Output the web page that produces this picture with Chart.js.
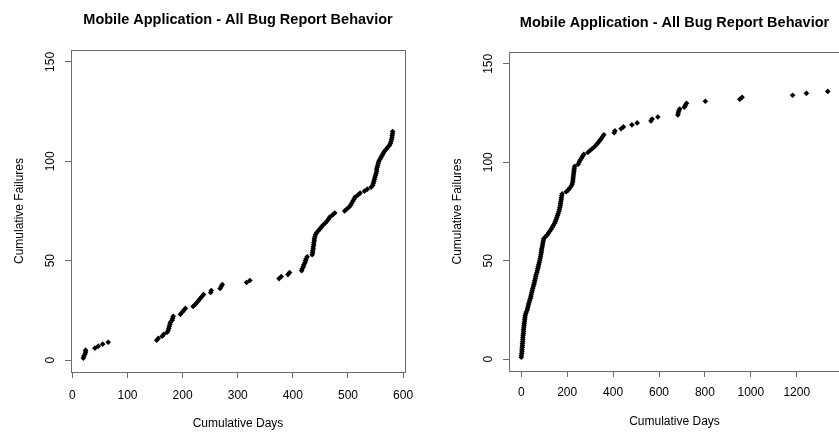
<!DOCTYPE html>
<html>
<head>
<meta charset="utf-8">
<script src="https://cdn.jsdelivr.net/npm/chart.js@4.4.0/dist/chart.umd.min.js"></script>
<style>
  html, body { margin: 0; padding: 0; background: #fff; overflow: hidden; width: 839px; height: 432px; }
  #leftChart { position: absolute; left: 0; top: 0; }
  #rightChart { position: absolute; left: 420px; top: 0; }
</style>
</head>
<body>
<canvas id="leftChart" width="420" height="432"></canvas>
<canvas id="rightChart" width="460" height="432"></canvas>
<script>
// ---------- data ----------
const chartTitle = 'Mobile Application - All Bug Report Behavior';
const xLabel = 'Cumulative Days';
const yLabel = 'Cumulative Failures';

const leftDays = [20, 21, 23, 24, 24, 41, 47, 55, 65, 153,
  156, 163, 166, 172, 174, 175, 176, 177, 178, 181,
  182, 183, 196, 199, 202, 205, 219, 223, 226, 229,
  232, 235, 238, 251, 252, 268, 270, 272, 316, 322,
  375, 379, 391, 394, 416, 417, 419, 420, 422, 423,
  424, 426, 435, 436, 436, 437, 437, 438, 438, 439,
  439, 440, 441, 443, 446, 449, 452, 455, 459, 462,
  465, 467, 472, 476, 494, 498, 502, 505, 507, 509,
  511, 513, 518, 522, 530, 535, 542, 545, 546, 547,
  548, 549, 550, 551, 552, 552, 553, 554, 555, 556,
  558, 560, 562, 564, 566, 569, 572, 575, 577, 578,
  579, 580, 580, 581, 581];
const leftFailures = [1, 2, 3, 4, 5, 6, 7, 8, 9, 10,
  11, 12, 13, 14, 15, 16, 17, 18, 19, 20,
  21, 22, 23, 24, 25, 26, 27, 28, 29, 30,
  31, 32, 33, 34, 35, 36, 37, 38, 39, 40,
  41, 42, 43, 44, 45, 46, 47, 48, 49, 50,
  51, 52, 53, 54, 55, 56, 57, 58, 59, 60,
  61, 62, 63, 64, 65, 66, 67, 68, 69, 70,
  71, 72, 73, 74, 75, 76, 77, 78, 79, 80,
  81, 82, 83, 84, 85, 86, 87, 88, 89, 90,
  91, 92, 93, 94, 95, 96, 97, 98, 99, 100,
  101, 102, 103, 104, 105, 106, 107, 108, 109, 110,
  111, 112, 113, 114, 115];

const rightDays = [0, 1, 2, 3, 3, 4, 5, 5, 6, 7,
  7, 8, 9, 10, 10, 11, 12, 13, 14, 15,
  16, 17, 19, 22, 26, 28, 30, 32, 35, 37,
  40, 42, 44, 46, 48, 50, 53, 55, 57, 59,
  61, 63, 65, 68, 70, 72, 74, 76, 78, 80,
  82, 84, 85, 87, 88, 89, 91, 93, 94, 96,
  97, 104, 112, 118, 124, 130, 135, 140, 145, 149,
  152, 155, 158, 161, 164, 166, 168, 170, 171, 172,
  174, 175, 176, 178, 196, 205, 212, 218, 222, 224,
  225, 226, 227, 228, 229, 230, 231, 233, 248, 252,
  256, 262, 267, 272, 290, 300, 310, 320, 328, 335,
  342, 348, 354, 360, 405, 408, 435, 445, 482, 505,
  565, 570, 595, 682, 684, 686, 690, 710, 715, 720,
  802, 952, 962, 1182, 1242, 1335];
const rightFailures = [1, 2, 3, 4, 5, 6, 7, 8, 9, 10,
  11, 12, 13, 14, 15, 16, 17, 18, 19, 20,
  21, 22, 23, 24, 25, 26, 27, 28, 29, 30,
  31, 32, 33, 34, 35, 36, 37, 38, 39, 40,
  41, 42, 43, 44, 45, 46, 47, 48, 49, 50,
  51, 52, 53, 54, 55, 56, 57, 58, 59, 60,
  61, 62, 63, 64, 65, 66, 67, 68, 69, 70,
  71, 72, 73, 74, 75, 76, 77, 78, 79, 80,
  81, 82, 83, 84, 85, 86, 87, 88, 89, 90,
  91, 92, 93, 94, 95, 96, 97, 98, 99, 100,
  101, 102, 103, 104, 105, 106, 107, 108, 109, 110,
  111, 112, 113, 114, 115, 116, 117, 118, 119, 120,
  121, 122, 123, 124, 125, 126, 127, 128, 129, 130,
  131, 132, 133, 134, 135, 136];

const leftXTicks = [0, 100, 200, 300, 400, 500, 600];
const rightXTicks = [0, 200, 400, 600, 800, 1000, 1200];
const yTicks = [0, 50, 100, 150];
const yLimits = [0, 150];

// ---------- helpers ----------
const FONT = "'Liberation Sans', Arial, Helvetica, sans-serif";
const AXIS_GREY = '#6b6b6b';

// R-style box round the plot region
const boxPlugin = {
  id: 'rbox',
  afterDraw(chart) {
    const { ctx, chartArea: a } = chart;
    ctx.save();
    ctx.strokeStyle = AXIS_GREY;
    ctx.lineWidth = 1;
    ctx.strokeRect(Math.round(a.left) + 0.5, Math.round(a.top) + 0.5,
      Math.round(a.right - a.left), Math.round(a.bottom - a.top));
    ctx.restore();
  }
};

// R pads the data range by 4% on each side
function padRange(lo, hi) {
  const d = (hi - lo) * 0.04;
  return [lo - d, hi + d];
}

function makeChart(canvasId, days, failures, xTicks, o) {
  const xr = padRange(Math.min(...days), Math.max(...days));
  const yr = padRange(yLimits[0], yLimits[1]);
  const points = days.map((d, i) => ({ x: d, y: failures[i] }));

  return new Chart(document.getElementById(canvasId).getContext('2d'), {
    type: 'scatter',
    data: {
      datasets: [{
        data: points,
        pointStyle: 'rectRot',
        pointRadius: 2.8,
        pointBorderWidth: 0,
        backgroundColor: '#000',
        borderColor: '#000'
      }]
    },
    options: {
      responsive: false,
      animation: false,
      devicePixelRatio: 1,
      layout: { padding: { left: 0, right: o.padRight, top: 0, bottom: 0 } },
      plugins: {
        legend: { display: false },
        tooltip: { enabled: false },
        title: {
          display: true,
          text: chartTitle,
          fullSize: false,
          color: '#000',
          font: { family: FONT, size: 14.5, weight: 'bold' },
          padding: { top: o.titleTop, bottom: o.titleBottom }
        }
      },
      scales: {
        x: {
          type: 'linear',
          min: xr[0],
          max: xr[1],
          afterBuildTicks: s => { s.ticks = xTicks.map(v => ({ value: v })); },
          afterFit: s => { s.height = o.xHeight; s.paddingLeft = 0; s.paddingRight = 0; },
          grid: { drawOnChartArea: false, drawTicks: true, tickLength: 6, color: AXIS_GREY },
          border: { display: false },
          ticks: {
            autoSkip: false, maxRotation: 0, minRotation: 0,
            padding: o.xTickPad, color: '#000',
            font: { family: FONT, size: 12 },
            callback: v => v
          },
          title: {
            display: true, text: xLabel, color: '#000',
            font: { family: FONT, size: 12 },
            padding: { top: 0, bottom: o.xTitlePad }
          }
        },
        y: {
          type: 'linear',
          min: yr[0],
          max: yr[1],
          afterBuildTicks: s => { s.ticks = yTicks.map(v => ({ value: v })); },
          afterFit: s => { s.width = o.yWidth; s.paddingTop = 0; s.paddingBottom = 0; },
          grid: { drawOnChartArea: false, drawTicks: true, tickLength: 6, color: AXIS_GREY },
          border: { display: false },
          ticks: {
            autoSkip: false, minRotation: 90, maxRotation: 90,
            crossAlign: 'center', padding: o.yTickPad, color: '#000',
            font: { family: FONT, size: 12 },
            callback: v => v
          },
          title: {
            display: true, text: yLabel, color: '#000',
            font: { family: FONT, size: 12 },
            padding: { top: o.yTitlePad, bottom: 0 }
          }
        }
      }
    },
    plugins: [boxPlugin]
  });
}

document.addEventListener('DOMContentLoaded', () => {
  // ---------- left: first 600 days ----------
  makeChart('leftChart', leftDays, leftFailures, leftXTicks, {
    padRight: 15, titleTop: 11.6, titleBottom: 21,
    xHeight: 60, xTickPad: 10.8, xTitlePad: 0.8,
    yWidth: 71, yTickPad: 4.5, yTitlePad: 12.3
  });

  // ---------- right: whole period ----------
  makeChart('rightChart', rightDays, rightFailures, rightXTicks, {
    padRight: 40, titleTop: 13.8, titleBottom: 20.8,
    xHeight: 61, xTickPad: 8.8, xTitlePad: 3.3,
    yWidth: 89, yTickPad: 4.5, yTitlePad: 30.5
  });
});
</script>
</body>
</html>
